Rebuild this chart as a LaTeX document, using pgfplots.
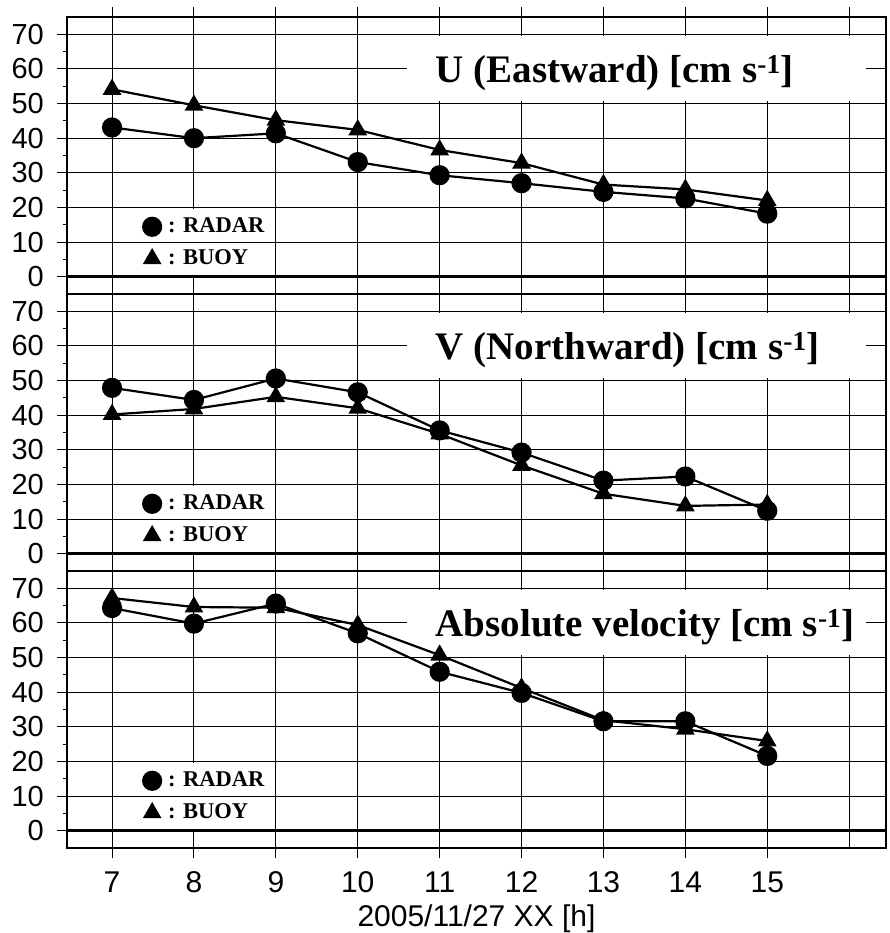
\documentclass[border=0pt]{standalone}
\usepackage{fontspec}
\setmainfont{Liberation Serif}
\newfontfamily\helv{Liberation Sans}
\usepackage{pgfplots}
\usepackage{pgfplotstable}
\pgfplotsset{compat=1.18}

\pgfplotstableread{
h radar buoy
7  43.1 54.1
8  40.0 49.5
9  41.4 45.2
10 33.1 42.4
11 29.3 36.6
12 27.0 32.8
13 24.5 26.6
14 22.6 25.2
15 18.2 22.0
}\dataU

\pgfplotstableread{
h radar buoy
7  47.9 40.2
8  44.4 41.8
9  50.6 45.3
10 46.6 42.0
11 35.6 34.6
12 29.2 25.5
13 21.1 17.3
14 22.3 13.8
15 12.4 14.2
}\dataV

\pgfplotstableread{
h radar buoy
7  64.3 67.2
8  59.8 64.6
9  65.6 64.4
10 57.0 59.4
11 45.9 50.7
12 39.8 41.2
13 31.6 31.9
14 31.6 29.3
15 21.6 25.9
}\dataA

\pgfplotsset{
  panel/.style={
    width=819pt, height=277pt, scale only axis,
    xmin=6.45, xmax=16.45, ymin=-5, ymax=75,
    xtick={7,...,16},
    xticklabels={},
    ytick={10,20,...,70},
    minor ytick={5,15,...,65},
    extra y ticks={0},
    extra y tick style={major grid style={line width=2.6pt, black}},
    grid=major,
    major grid style={line width=0.9pt, black},
    axis line style={line width=2.6pt},
    tick align=outside,
    ytick pos=left,
    major tick length=10pt, minor tick length=4pt,
    tick style={line width=0.9pt, black},
    /pgf/number format/assume math mode=true,
    yticklabel style={font=\helv\fontsize{29}{30}\selectfont, anchor=east, inner sep=0pt, xshift=-13pt},
    xticklabel style={font=\helv\fontsize{30}{32}\selectfont, anchor=base, inner sep=0pt, yshift=-34pt},
    legend cell align=left,
    reverse legend,
    legend style={at={(axis cs:7.38,17.3)}, anchor=north west, draw=none, fill=none,
      inner sep=0pt, outer sep=0pt,
      font=\bfseries\fontsize{22.5}{27}\selectfont,
      row sep=12pt, column sep=7pt,
      nodes={inner sep=0pt, text height=16pt, text depth=4pt}},
    legend image code/.code={\draw[#1, only marks] plot coordinates {(0pt,0pt)};},
  },
  radar/.style={black, line width=2.2pt, mark=*, mark size=9pt, mark options={solid, fill=black}},
  buoy/.style={black, line width=2.2pt, mark=triangle*, mark size=8.6pt, mark options={solid, fill=black}},
}

\newcommand{\boxes}[1]{%
  \fill[white] (axis cs:10.6,50.6) rectangle (axis cs:16.2,69.4);
  \fill[white] (axis cs:7.06,0.6) rectangle (axis cs:8.94,19.5);
  \draw[line width=0.9pt, black] (axis cs:7,10) -- (axis cs:9,10);
  \node[anchor=base west, inner sep=0pt, font=\bfseries\fontsize{39}{44}\selectfont] at (axis cs:10.95,56) {#1};
}

\begin{document}
\begin{tikzpicture}
\useasboundingbox (0pt,0pt) rectangle (889pt,-933pt);

\begin{axis}[panel, at={(67pt,-17pt)}, anchor=north west, xtick pos=right]
  \boxes{U (Eastward) [cm s\textsuperscript{-1}]}
  \addplot[buoy] table[x=h,y=buoy]{\dataU};
  \addplot[radar] table[x=h,y=radar]{\dataU};
  \legend{{: BUOY},{: RADAR}}
\end{axis}

\begin{axis}[panel, at={(67pt,-294pt)}, anchor=north west, xtick pos=right]
  \boxes{V (Northward) [cm s\textsuperscript{-1}]}
  \addplot[buoy] table[x=h,y=buoy]{\dataV};
  \addplot[radar] table[x=h,y=radar]{\dataV};
  \legend{{: BUOY},{: RADAR}}
\end{axis}

\begin{axis}[panel, at={(67pt,-571pt)}, anchor=north west, xtick pos=left,
  xtick={7,...,15}, xticklabels={7,8,9,10,11,12,13,14,15},
  extra x ticks={16}, extra x tick labels={}, extra x tick style={major tick length=0pt},
  xlabel={2005/11/27 XX [h]},
  xlabel style={font=\helv\fontsize{30}{32}\selectfont, at={(axis description cs:0.5,0)}, anchor=base, inner sep=0pt, yshift=-78pt}]
  \boxes{Absolute velocity [cm s\textsuperscript{-1}]}
  \addplot[buoy] table[x=h,y=buoy]{\dataA};
  \addplot[radar] table[x=h,y=radar]{\dataA};
  \legend{{: BUOY},{: RADAR}}
\end{axis}
\end{tikzpicture}
\end{document}
